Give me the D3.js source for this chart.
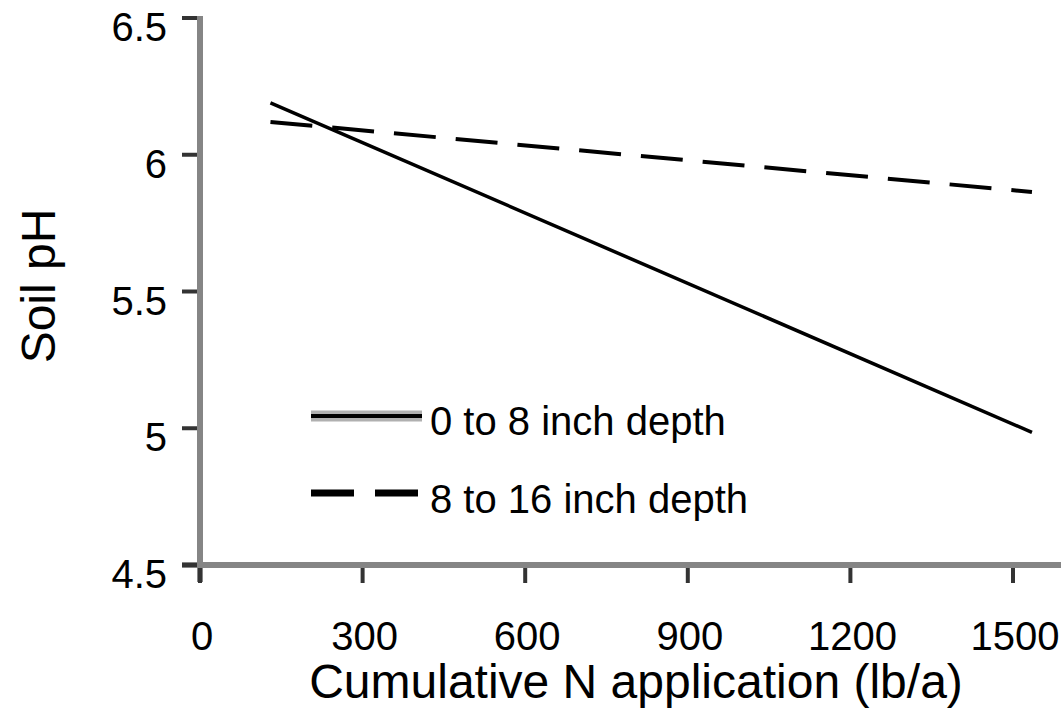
<!DOCTYPE html>
<html>
<head>
<meta charset="utf-8">
<script src="https://cdn.jsdelivr.net/npm/d3@7"></script>
<style>
  body { margin: 0; background: #fff; }
  text { font-family: "Liberation Sans", Arial, sans-serif; fill: #000; }
</style>
</head>
<body>
<div class="chart"></div>
<script>
/* data */
const nApplied = [130, 1535];           // cumulative N (lb/a)
const ph0to8 = [6.19, 4.985];           // 0 to 8 inch depth
const ph8to16 = [6.12, 5.864];          // 8 to 16 inch depth
const xTicks = [0, 300, 600, 900, 1200, 1500];
const yTicks = [4.5, 5, 5.5, 6, 6.5];
const seriesNames = ["0 to 8 inch depth", "8 to 16 inch depth"];

const width = 1061, height = 712;
const x = d3.scaleLinear().domain([0, 1500]).range([200, 1013]);
const y = d3.scaleLinear().domain([4.5, 6.5]).range([565, 18]);

const svg = d3.select(".chart").append("svg")
    .attr("width", width)
    .attr("height", height);

// axis lines (gray, Excel style)
svg.append("line")
    .attr("x1", x(0)).attr("x2", x(0))
    .attr("y1", y(6.5) - 2).attr("y2", y(4.5) + 17)
    .attr("stroke", "#858585").attr("stroke-width", 6);
svg.append("line")
    .attr("x1", x(0) - 18).attr("x2", width)
    .attr("y1", y(4.5)).attr("y2", y(4.5))
    .attr("stroke", "#858585").attr("stroke-width", 6);

// y ticks + labels
const yAxis = svg.append("g");
yAxis.selectAll("line.tick")
    .data(yTicks)
    .enter().append("line")
    .attr("class", "tick")
    .attr("x1", x(0) - 18).attr("x2", x(0) - 3)
    .attr("y1", d => y(d)).attr("y2", d => y(d))
    .attr("stroke", "#333").attr("stroke-width", 4);
yAxis.selectAll("text")
    .data(yTicks)
    .enter().append("text")
    .attr("x", 167)
    .attr("y", d => y(d) + 23)
    .attr("text-anchor", "end")
    .style("font-size", "40px")
    .text(d => d3.format("~g")(d));

// x ticks + labels
const xAxis = svg.append("g");
xAxis.selectAll("line.tick")
    .data(xTicks)
    .enter().append("line")
    .attr("class", "tick")
    .attr("x1", d => x(d)).attr("x2", d => x(d))
    .attr("y1", y(4.5) + 3).attr("y2", y(4.5) + 18)
    .attr("stroke", "#333").attr("stroke-width", 4);
xAxis.selectAll("text")
    .data(xTicks)
    .enter().append("text")
    .attr("x", d => x(d) + 2)
    .attr("y", 650)
    .attr("text-anchor", "middle")
    .style("font-size", "40px")
    .text(d => d);

// axis titles
svg.append("text")
    .attr("x", 636).attr("y", 698)
    .attr("text-anchor", "middle")
    .style("font-size", "48px")
    .text("Cumulative N application (lb/a)");
svg.append("text")
    .attr("transform", "translate(55,286) rotate(-90)")
    .attr("text-anchor", "middle")
    .style("font-size", "48px")
    .text("Soil pH");

// data lines
const line = d3.line().x(d => x(d[0])).y(d => y(d[1]));
svg.append("path")
    .datum(nApplied.map((v, i) => [v, ph0to8[i]]))
    .attr("d", line)
    .attr("fill", "none")
    .attr("stroke", "#000")
    .attr("stroke-width", 3.5);
svg.append("path")
    .datum(nApplied.map((v, i) => [v, ph8to16[i]]))
    .attr("d", line)
    .attr("fill", "none")
    .attr("stroke", "#000")
    .attr("stroke-width", 4)
    .attr("stroke-dasharray", "42,20");

// legend
const legend = svg.append("g");
legend.append("line")
    .attr("x1", 311).attr("x2", 422).attr("y1", 416).attr("y2", 416)
    .attr("stroke", "#b0b0b0").attr("stroke-width", 11);
legend.append("line")
    .attr("x1", 311).attr("x2", 422).attr("y1", 416).attr("y2", 416)
    .attr("stroke", "#000").attr("stroke-width", 4);
legend.append("line")
    .attr("x1", 311).attr("x2", 418).attr("y1", 493).attr("y2", 493)
    .attr("stroke", "#000").attr("stroke-width", 7)
    .attr("stroke-dasharray", "43,21");
legend.selectAll("text")
    .data(seriesNames)
    .enter().append("text")
    .attr("x", 430)
    .attr("y", (d, i) => 435 + i * 78)
    .style("font-size", "40px")
    .text(d => d);
</script>
</body>
</html>
